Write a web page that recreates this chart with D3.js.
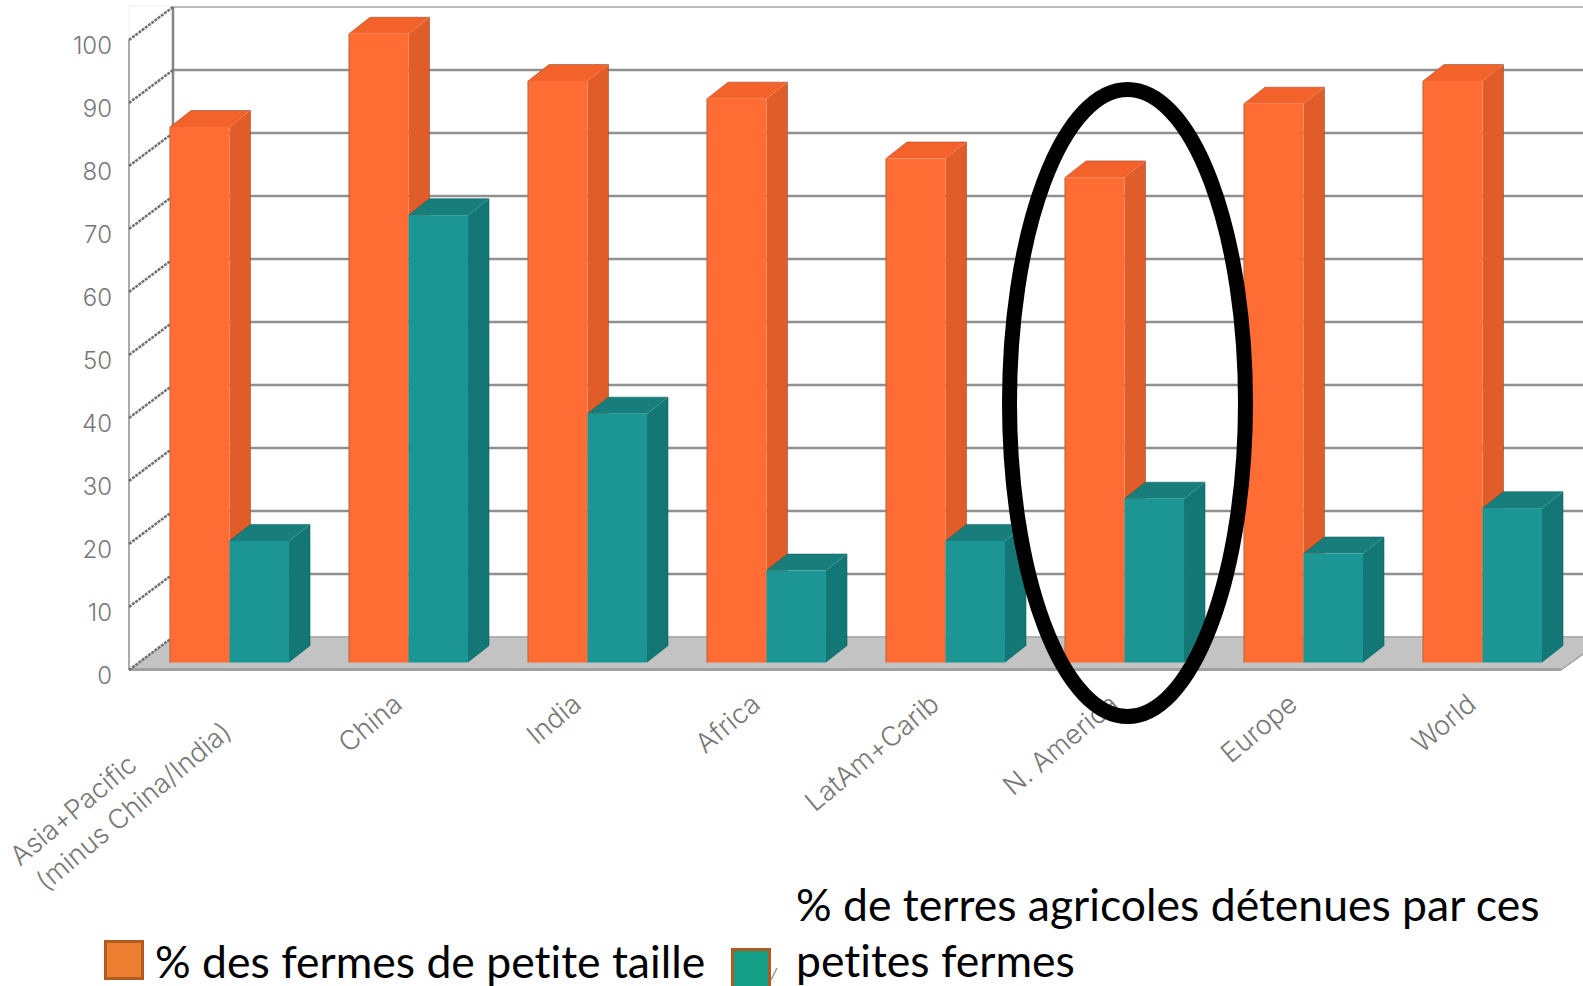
<!DOCTYPE html>
<html><head><meta charset="utf-8">
<script src="https://cdn.jsdelivr.net/npm/d3@7"></script>
<style>html,body{margin:0;padding:0;background:#fff;overflow:hidden}svg{display:block}</style>
</head><body><svg id="c" width="1583" height="986"></svg>
<script>
const categories = [["Asia+Pacific","(minus China/India)"],["China"],["India"],["Africa"],["LatAm+Carib"],["N. America"],["Europe"],["World"]];
const smallFarmsShare = [85,99.8,92.3,89.5,80,77,88.7,92.3];
const landShare = [19.3,71,39.5,14.6,19.3,26,17.3,24.5];
const yTicks = [0,10,20,30,40,50,60,70,80,90,100];
const legendFarms = "% des fermes de petite taille";
const legendLand = ["% de terres agricoles détenues par ces","petites fermes"];

const svg = d3.select("#c");
const y = d3.scaleLinear().domain([0,100]).range([670,40]);
const keys = categories.map((d,i)=>i);
const x0 = d3.scaleBand().domain(keys).range([140,1572]).paddingInner(.335).paddingOuter(.1675);
const x1 = d3.scaleBand().domain([0,1]).range([0,x0.bandwidth()]);
const wall = {dx:44,dy:33}, bar = {dx:21,dy:16.5}, base = 7.5;
const leftX = 129, floorEnd = 1561, W = 1583;

// wall & floor
svg.append("path").attr("d",`M${leftX} ${y(100)}V6H${leftX+wall.dx}`).attr("fill","none").attr("stroke","#eee");
svg.append("polygon").attr("points",[[leftX,y(0)],[leftX+wall.dx,y(0)-wall.dy],[W,y(0)-wall.dy],[W,y(0)-16],[floorEnd,y(0)]].join(" ")).attr("fill","#c3c3c3");
svg.append("g").selectAll("line").data(yTicks.slice(1)).join("line")
  .attr("x1",leftX+wall.dx).attr("x2",W).attr("y1",d=>y(d)-wall.dy).attr("y2",d=>y(d)-wall.dy)
  .attr("stroke",d=>d===100?"#a5a5a5":"#909090").attr("stroke-width",d=>d===100?1.5:2.5);
svg.append("line").attr("x1",leftX+wall.dx).attr("x2",W).attr("y1",y(0)-wall.dy).attr("y2",y(0)-wall.dy).attr("stroke","#b0b0b0").attr("stroke-width",2);
svg.append("line").attr("x1",leftX+wall.dx).attr("x2",leftX+wall.dx).attr("y1",y(100)-wall.dy).attr("y2",y(0)-wall.dy).attr("stroke","#858585").attr("stroke-width",2.5);
svg.append("line").attr("x1",leftX).attr("x2",leftX).attr("y1",y(100)).attr("y2",y(0)).attr("stroke","#8f8f8f").attr("stroke-width",1.5);
svg.append("line").attr("x1",leftX).attr("x2",floorEnd).attr("y1",y(0)-.5).attr("y2",y(0)-.5).attr("stroke","#a0a0a0").attr("stroke-width",3);
svg.append("g").selectAll("line").data(yTicks).join("line")
  .attr("x1",leftX).attr("x2",leftX+wall.dx).attr("y1",d=>y(d)).attr("y2",d=>y(d)-wall.dy)
  .attr("stroke","#707070").attr("stroke-width",2.5).attr("stroke-dasharray","3 1");
svg.append("line").attr("x1",floorEnd).attr("x2",W).attr("y1",y(0)).attr("y2",y(0)-16).attr("stroke","#a0a0a0").attr("stroke-width",1.5);

// y tick labels via axis
const yAxis = svg.append("g").attr("transform",`translate(${leftX},0)`)
  .call(d3.axisLeft(y).tickValues(yTicks).tickSize(0).tickPadding(17));
yAxis.select(".domain").remove();
yAxis.selectAll("text").attr("font-family","Inter, Lato, sans-serif").attr("font-weight",300).attr("font-size",24).attr("fill","#777").attr("dy","0.56em");

// bars
const palettes = [
  {front:"#ff6d34",side:"#e05c29",top:"#f4622c",edge:"#8a4a2c"},
  {front:"#1b9695",side:"#127775",top:"#177e7b",edge:"#0f5f5d"}
];
function drawBar(g, xLeft, v, p){
  const w = x1.bandwidth(), b = y(0)-base, t = y(v)-base;
  g.append("polygon").attr("points",[[xLeft+w,t],[xLeft+w+bar.dx,t-bar.dy],[xLeft+w+bar.dx,b-bar.dy],[xLeft+w,b]].join(" ")).attr("fill",p.side);
  g.append("polygon").attr("points",[[xLeft,t],[xLeft+bar.dx,t-bar.dy],[xLeft+w+bar.dx,t-bar.dy],[xLeft+w,t]].join(" ")).attr("fill",p.top);
  g.append("path").attr("d",`M${xLeft} ${t}L${xLeft+bar.dx} ${t-bar.dy}H${xLeft+w+bar.dx}V${b-bar.dy}`).attr("fill","none").attr("stroke",p.edge).attr("stroke-width",1).attr("stroke-opacity",.55);
  g.append("rect").attr("x",xLeft).attr("y",t).attr("width",w).attr("height",b-t).attr("fill",p.front);
}
const bars = svg.append("g");
keys.forEach(i=>{
  const g = bars.append("g");
  drawBar(g, x0(i)+x1(0), smallFarmsShare[i], palettes[0]);
  g.append("line").attr("x1",x0(i)).attr("x2",x0(i)).attr("y1",y(smallFarmsShare[i])-base).attr("y2",y(0)-base).attr("stroke","#b5623c").attr("stroke-width",1);
  drawBar(g, x0(i)+x1(1), landShare[i], palettes[1]);
});

// category labels
const labels = svg.append("g").attr("font-family","Inter, Lato, sans-serif").attr("font-weight",300).attr("font-size",27).attr("fill","#777");
keys.forEach(i=>{
  const lines = categories[i];
  if (lines.length>1) {
    labels.append("text").attr("transform","translate(20,867) rotate(-40)").text(lines[0]);
    labels.append("text").attr("transform","translate(46,892) rotate(-40)").text(lines[1]);
  } else {
    labels.append("text").attr("text-anchor","end")
      .attr("transform",`translate(${x0(i)+x0.bandwidth()-64},${707}) rotate(-40)`).text(lines[0]);
  }
});

// circled region
const oc = x0(5)+x1(1);
svg.append("ellipse").attr("cx",oc+3).attr("cy",403).attr("rx",118).attr("ry",313.5).attr("fill","none").attr("stroke","#000").attr("stroke-width",15);

// legend
const lg = svg.append("g").attr("font-family","Lato, 'Noto Sans', sans-serif").attr("font-size",44.5).attr("fill","#000").style("font-variant-ligatures","none");
lg.append("rect").attr("x",105.5).attr("y",941.5).attr("width",37).attr("height",37).attr("fill","#ed7d31").attr("stroke","#ae5a21").attr("stroke-width",3);
lg.append("text").attr("x",155).attr("y",978).text(legendFarms);
lg.append("rect").attr("x",732.5).attr("y",949.5).attr("width",37).attr("height",40).attr("fill","#149e85").attr("stroke","#ae5a21").attr("stroke-width",3);
lg.append("path").attr("d","M771 980L777 968").attr("stroke","#9a9a9a").attr("stroke-width",1.5);
legendLand.forEach((l,k)=>lg.append("text").attr("x",796).attr("y",k?977:921).text(l));
</script></body></html>
